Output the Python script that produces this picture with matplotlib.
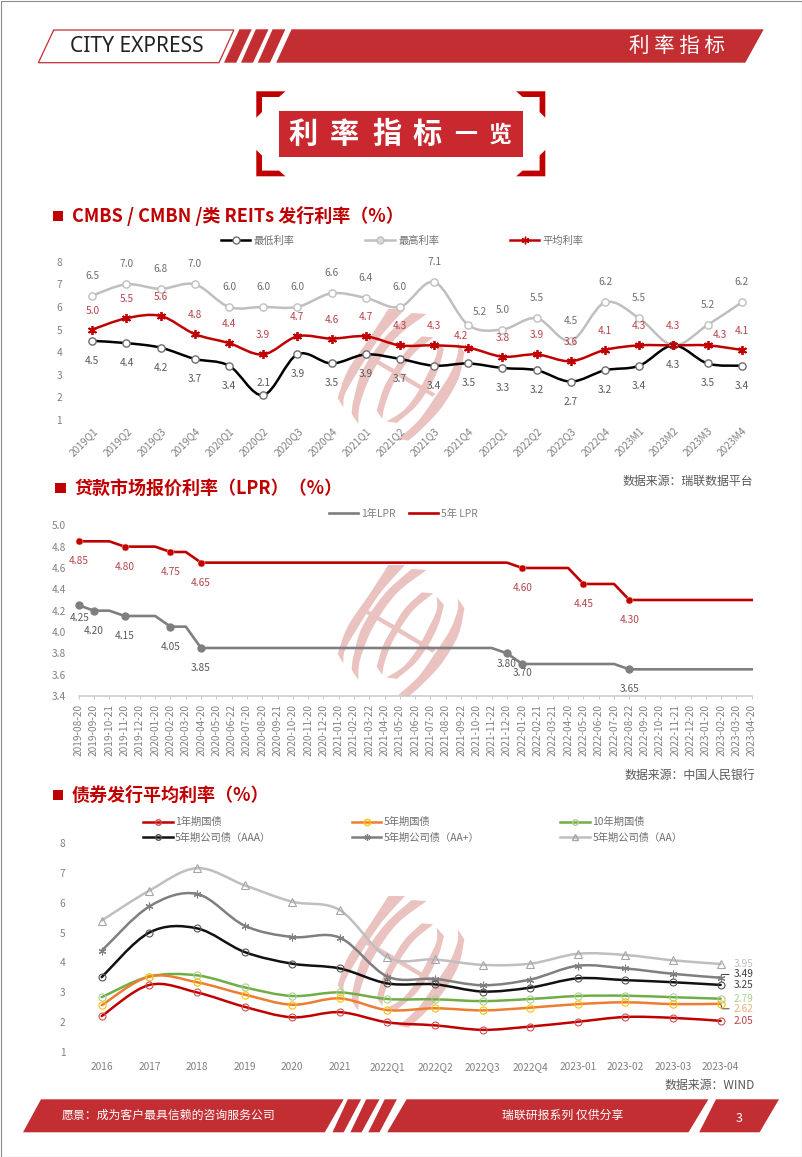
import numpy as np
from matplotlib import pyplot as plt
from matplotlib.lines import Line2D
from matplotlib.patches import PathPatch, Polygon, Rectangle
from matplotlib.path import Path

plt.rcParams['font.family'] = ['Noto Sans CJK SC', 'DejaVu Sans']

W, H = 802, 1157
PX = 0.72  # points per pixel at dpi 100

RED = '#C32E33'
DARK_RED = '#C00000'
TICK_GREY = '#808080'
LOGO = '#EAC3C1'

# chart 1: CMBS / CMBN / REITs
periods = ['2019Q1', '2019Q2', '2019Q3', '2019Q4', '2020Q1', '2020Q2', '2020Q3', '2020Q4',
           '2021Q1', '2021Q2', '2021Q3', '2021Q4', '2022Q1', '2022Q2', '2022Q3', '2022Q4',
           '2023M1', '2023M2', '2023M3', '2023M4']
rate_low = [4.5, 4.4, 4.2, 3.7, 3.4, 2.1, 3.9, 3.5, 3.9, 3.7, 3.4, 3.5, 3.3, 3.2, 2.7, 3.2, 3.4, 4.3, 3.5, 3.4]
rate_high = [6.5, 7.0, 6.8, 7.0, 6.0, 6.0, 6.0, 6.6, 6.4, 6.0, 7.1, 5.2, 5.0, 5.5, 4.5, 6.2, 5.5, 4.3, 5.2, 6.2]
rate_avg = [5.0, 5.5, 5.6, 4.8, 4.4, 3.9, 4.7, 4.6, 4.7, 4.3, 4.3, 4.2, 3.8, 3.9, 3.6, 4.1, 4.3, 4.3, 4.3, 4.1]

# chart 2: LPR
lpr_dates = ['2019-08-20', '2019-09-20', '2019-10-21', '2019-11-20', '2019-12-20',
             '2020-01-20', '2020-02-20', '2020-03-20', '2020-04-20', '2020-05-20', '2020-06-22',
             '2020-07-20', '2020-08-20', '2020-09-21', '2020-10-20', '2020-11-20', '2020-12-20',
             '2021-01-20', '2021-02-20', '2021-03-22', '2021-04-20', '2021-05-20', '2021-06-20',
             '2021-07-20', '2021-08-20', '2021-09-22', '2021-10-20', '2021-11-22', '2021-12-20',
             '2022-01-20', '2022-02-21', '2022-03-21', '2022-04-20', '2022-05-20', '2022-06-20',
             '2022-07-20', '2022-08-22', '2022-09-20', '2022-10-20', '2022-11-21', '2022-12-20',
             '2023-01-20', '2023-02-20', '2023-03-20', '2023-04-20']
lpr_1y = [4.25, 4.20, 4.20, 4.15, 4.15, 4.15, 4.05, 4.05, 3.85, 3.85, 3.85, 3.85, 3.85, 3.85, 3.85,
          3.85, 3.85, 3.85, 3.85, 3.85, 3.85, 3.85, 3.85, 3.85, 3.85, 3.85, 3.85, 3.85, 3.80, 3.70,
          3.70, 3.70, 3.70, 3.70, 3.70, 3.70, 3.65, 3.65, 3.65, 3.65, 3.65, 3.65, 3.65, 3.65, 3.65]
lpr_5y = [4.85, 4.85, 4.85, 4.80, 4.80, 4.80, 4.75, 4.75, 4.65, 4.65, 4.65, 4.65, 4.65, 4.65, 4.65,
          4.65, 4.65, 4.65, 4.65, 4.65, 4.65, 4.65, 4.65, 4.65, 4.65, 4.65, 4.65, 4.65, 4.65, 4.60,
          4.60, 4.60, 4.60, 4.45, 4.45, 4.45, 4.30, 4.30, 4.30, 4.30, 4.30, 4.30, 4.30, 4.30, 4.30]
lpr_1y_changes = [0, 1, 3, 6, 8, 28, 29, 36]
lpr_5y_changes = [0, 3, 6, 8, 29, 33, 36]

# chart 3: bonds
bond_periods = ['2016', '2017', '2018', '2019', '2020', '2021', '2022Q1', '2022Q2', '2022Q3', '2022Q4',
                '2023-01', '2023-02', '2023-03', '2023-04']
gov_1y = [2.21, 3.25, 3.00, 2.52, 2.17, 2.34, 2.00, 1.90, 1.75, 1.86, 2.02, 2.18, 2.15, 2.05]
gov_5y = [2.57, 3.53, 3.34, 2.93, 2.59, 2.80, 2.41, 2.47, 2.40, 2.49, 2.61, 2.67, 2.61, 2.62]
gov_10y = [2.84, 3.53, 3.57, 3.17, 2.88, 3.00, 2.78, 2.77, 2.71, 2.78, 2.88, 2.89, 2.84, 2.79]
corp_aaa = [3.51, 5.00, 5.14, 4.35, 3.96, 3.80, 3.30, 3.27, 3.03, 3.16, 3.47, 3.41, 3.34, 3.25]
corp_aap = [4.39, 5.87, 6.29, 5.23, 4.85, 4.83, 3.53, 3.45, 3.24, 3.43, 3.89, 3.80, 3.62, 3.49]
corp_aa = [5.40, 6.40, 7.15, 6.58, 6.03, 5.75, 4.17, 4.10, 3.92, 3.96, 4.29, 4.25, 4.07, 3.95]


def bezier_through(pts):
    """Bezier control points for a smoothed line through pts, Excel style"""
    pts = np.asarray(pts, dtype=float)
    n = len(pts)
    verts = []
    for i in range(n - 1):
        p0, p1, p2, p3 = pts[max(i - 1, 0)], pts[i], pts[i + 1], pts[min(i + 2, n - 1)]
        verts += [p1 + (p2 - p0) / 6, p2 - (p3 - p1) / 6, p2]
    return verts


def smooth_path(ys):
    pts = np.column_stack([np.arange(len(ys)), ys])
    verts = bezier_through(pts)
    return Path([pts[0]] + verts, [Path.MOVETO] + [Path.CURVE4] * len(verts))


def add_line(ax, ys, color, lw, zorder=3):
    ax.add_patch(PathPatch(smooth_path(ys), fill=False, edgecolor=color, lw=lw,
                           capstyle='round', joinstyle='round', zorder=zorder, clip_on=False))


def px_axes(x0, y0, x1, y1):
    ax = fig.add_axes([x0 / W, 1 - y1 / H, (x1 - x0) / W, (y1 - y0) / H], facecolor='none', zorder=2)
    for side in ['top', 'right', 'left', 'bottom']:
        ax.spines[side].set_visible(False)
    return ax


def point_label(ax, x, y, txt, dx, dy, color):
    # dx, dy in pixels, dy up
    ax.annotate(txt, (x, y), xytext=(dx * PX, dy * PX), textcoords='offset points',
                ha='center', va='center', fontsize=7.3, color=color, zorder=6, annotation_clip=False)


def section_title(x_sq, y_sq, x_txt, txt):
    bg.add_patch(Rectangle((x_sq, y_sq), 10.5, 10, color=DARK_RED, lw=0))
    bg.text(x_txt, y_sq + 5, txt, fontsize=13, color=DARK_RED, va='center', ha='left', fontweight='bold')


def poly(pts, fc=RED, ec='none', lw=0):
    bg.add_patch(Polygon(pts, closed=True, facecolor=fc, edgecolor=ec, lw=lw))


def logo_band(x0, y0, edge_a, edge_b):
    # two smoothed edges, in 1/3 pixel units from the logo corner
    a = [(x0 + x / 3, y0 + y / 3) for x, y in edge_a]
    b = [(x0 + x / 3, y0 + y / 3) for x, y in edge_b]
    va, vb = bezier_through(a), bezier_through(b)
    verts = [a[0]] + va + [b[0]] + vb + [a[0]]
    codes = [Path.MOVETO] + [Path.CURVE4] * len(va) + [Path.LINETO] + [Path.CURVE4] * len(vb) + [Path.CLOSEPOLY]
    bg.add_patch(PathPatch(Path(verts, codes), facecolor=LOGO, edgecolor='none', zorder=1))


def watermark(x0, y0):
    logo_band(x0, y0, [(190, 15), (135, 100), (68, 200), (38, 282)],
              [(55, 310), (60, 270), (100, 200), (165, 100), (240, 15)])
    logo_band(x0, y0, [(260, 27), (180, 100), (112, 200), (85, 290), (80, 330)],
              [(100, 360), (105, 300), (145, 200), (215, 100), (305, 30)])
    logo_band(x0, y0, [(290, 97), (240, 145), (205, 200), (175, 255), (155, 320)],
              [(172, 345), (178, 310), (200, 250), (232, 195), (270, 145), (325, 100)])
    logo_band(x0, y0, [(357, 135), (340, 195), (310, 255), (270, 310), (215, 357)],
              [(185, 352), (235, 320), (275, 270), (310, 205), (335, 150), (335, 110)])
    logo_band(x0, y0, [(418, 145), (400, 225), (350, 310), (290, 375), (250, 410)],
              [(220, 405), (280, 350), (330, 280), (375, 210), (398, 150), (398, 115)])
    bar = [(122, 147), (225, 205), (332, 270), (322, 278), (215, 215), (118, 158)]
    bg.add_patch(Polygon([(x0 + x / 3, y0 + y / 3) for x, y in bar], closed=True,
                         facecolor=LOGO, edgecolor='none', zorder=1))


fig = plt.figure(figsize=(W / 100, H / 100), dpi=100, facecolor='white')

# page furniture
bg = fig.add_axes([0, 0, 1, 1], zorder=0)
bg.set_xlim(0, W)
bg.set_ylim(H, 0)
bg.axis('off')
bg.add_patch(Rectangle((0.5, 0.5), W - 1, H - 1, fill=False, edgecolor='#8c8c8c', lw=0.8))

poly([(53.7, 30), (233.8, 30), (219, 62.7), (38.4, 62.7)], fc='white', ec=RED, lw=0.9)
poly([(239.4, 29.3), (251.7, 29.3), (236.3, 62.7), (224, 62.7)])
poly([(255.8, 29.3), (268.5, 29.3), (253, 62.7), (241, 62.7)])
poly([(272.6, 29.3), (285.4, 29.3), (270, 62.7), (257.8, 62.7)])
poly([(291.6, 29.3), (763.7, 29.3), (745.3, 62.7), (276.2, 62.7)])
bg.text(70, 46.5, 'CITY EXPRESS', fontsize=15.1, color='#222222', va='center', ha='left',
        family=['Liberation Sans Narrow', 'Noto Sans'])
bg.text(677, 46, '利 率 指 标', fontsize=14.8, color='white', va='center', ha='center')

# title box and brackets
bg.add_patch(Rectangle((278.8, 110.7), 244.5, 46.3, color='#C9282E', lw=0))
for mx, my in [(False, False), (True, False), (False, True), (True, True)]:
    pts = [(256.3, 91.3), (285.5, 91.3), (279, 97), (262, 97), (262, 112), (256.3, 117.7)]
    poly([(801.6 - x if mx else x, 267.6 - y if my else y) for x, y in pts], fc=DARK_RED)
for cx, ch in zip([303.2, 344.5, 386.5, 427.5], '利率指标'):
    bg.text(cx, 134, ch, fontsize=21, color='white', va='center', ha='center', fontweight='bold')
bg.text(466, 134, '一', fontsize=16.5, color='white', va='center', ha='center', fontweight='bold')
bg.text(500, 135, '览', fontsize=16.5, color='white', va='center', ha='center', fontweight='bold')

# footer
poly([(41, 1099.3), (343.7, 1099.3), (324.8, 1132.3), (23, 1132.3)])
poly([(347.8, 1099.3), (361.1, 1099.3), (343.7, 1132.3), (332.5, 1132.3)])
poly([(366.2, 1099.3), (379.5, 1099.3), (361.6, 1132.3), (350.4, 1132.3)])
poly([(384.7, 1099.3), (396.9, 1099.3), (379.5, 1132.3), (368.3, 1132.3)])
poly([(406.6, 1099.3), (708.4, 1099.3), (688.5, 1132.3), (387.2, 1132.3)])
poly([(716, 1099.3), (779, 1099.3), (759.6, 1132.3), (699.2, 1132.3)])
bg.text(62, 1115.3, '愿景：成为客户最具信赖的咨询服务公司', fontsize=8.55, color='white', va='center')
bg.text(563, 1115.3, '瑞联研报系列 仅供分享', fontsize=8.55, color='white', va='center', ha='center')
bg.text(739, 1118, '3', fontsize=9, color='white', va='center', ha='center')

section_title(52.7, 210.7, 71.7, 'CMBS / CMBN /类 REITs 发行利率（%）')
section_title(55, 483.3, 74.3, '贷款市场报价利率（LPR）（%）')
section_title(52.7, 790, 71.7, '债券发行平均利率（%）')

bg.text(753, 481, '数据来源：瑞联数据平台', fontsize=8.6, color='#595959', va='center', ha='right')
bg.text(755.5, 775, '数据来源：中国人民银行', fontsize=8.6, color='#595959', va='center', ha='right')
bg.text(754.5, 1085.7, '数据来源：WIND', fontsize=8.6, color='#595959', va='center', ha='right')

watermark(325, 304)
watermark(325, 560)
watermark(325, 891)

# chart 1
ax1 = px_axes(75.2, 261.7, 758.8, 420)
x1 = np.arange(len(periods))
ax1.set_xlim(-0.5, len(periods) - 0.5)
ax1.set_ylim(1, 8)
add_line(ax1, rate_high, '#BFBFBF', 1.8)
add_line(ax1, rate_low, '#000000', 1.8)
add_line(ax1, rate_avg, DARK_RED, 1.8)
ax1.plot(x1, rate_high, ls='none', marker='o', ms=5.2, mfc='white', mec='#BFBFBF', mew=1, zorder=4, clip_on=False)
ax1.plot(x1, rate_low, ls='none', marker='o', ms=5.2, mfc='white', mec='#6e6e6e', mew=1, zorder=4, clip_on=False)
ax1.plot(x1, rate_avg, ls='none', marker=(6, 2, 0), ms=6.5, mec=DARK_RED, mew=1.3, zorder=5, clip_on=False)
ax1.set_xticks(x1)
ax1.set_xticklabels(periods, rotation=45, ha='right', rotation_mode='anchor')
ax1.set_yticks(range(1, 9))
ax1.tick_params(axis='both', length=0, labelsize=7.3, labelcolor=TICK_GREY)
ax1.tick_params(axis='x', pad=4)
ax1.tick_params(axis='y', pad=9.5)

low_shift = {5: (0, 12)}
high_shift = {11: (12, 13)}
avg_shift = {11: (-7, 12), 18: (12, 10)}
for i in x1:
    dx, dy = low_shift.get(i, (0, -20))
    point_label(ax1, i, rate_low[i], '%.1f' % rate_low[i], dx, dy, '#595959')
    if i != 17:  # sits behind the average label
        dx, dy = high_shift.get(i, (0, 20))
        point_label(ax1, i, rate_high[i], '%.1f' % rate_high[i], dx, dy, '#6e6e6e')
    dx, dy = avg_shift.get(i, (0, 19))
    point_label(ax1, i, rate_avg[i], '%.1f' % rate_avg[i], dx, dy, '#B5444A')

ax1.legend(handles=[Line2D([], [], color='black', lw=1.8, marker='o', ms=5, mfc='white', mec='#6e6e6e', label='最低利率'),
                    Line2D([], [], color='#BFBFBF', lw=1.8, marker='o', ms=5, mfc='#d9d9d9', mec='#BFBFBF', label='最高利率'),
                    Line2D([], [], color=DARK_RED, lw=1.8, marker=(6, 2, 0), ms=5.5, mec=DARK_RED, label='平均利率')],
           ncol=3, frameon=False, fontsize=7.4, labelcolor='#6e6e6e', handlelength=2.85, handletextpad=0.32,
           columnspacing=6.9, borderpad=0, borderaxespad=0, loc='center left',
           bbox_to_anchor=(221 / W, 1 - 241 / H), bbox_transform=fig.transFigure)

# chart 2
ax2 = px_axes(78.7, 525.3, 751.7, 696)
x2 = np.arange(len(lpr_dates))
ax2.set_xlim(0, len(lpr_dates) - 1)
ax2.set_ylim(3.4, 5.0)
ax2.plot(x2, lpr_1y, color='#7F7F7F', lw=1.9, zorder=3, clip_on=False)
ax2.plot(x2, lpr_5y, color=DARK_RED, lw=1.9, zorder=3, clip_on=False)
ax2.plot(x2[lpr_1y_changes], np.array(lpr_1y)[lpr_1y_changes], ls='none', marker='o', ms=5, color='#7F7F7F', zorder=4, clip_on=False)
ax2.plot(x2[lpr_5y_changes], np.array(lpr_5y)[lpr_5y_changes], ls='none', marker='o', ms=5, color=DARK_RED, mec='#F0B0A0', mew=0.4, zorder=4, clip_on=False)
ax2.spines['bottom'].set_visible(True)
ax2.spines['bottom'].set_color('#C8C8C8')
ax2.spines['bottom'].set_linewidth(1.1)
ax2.set_xticks(x2)
ax2.set_xticklabels(lpr_dates, rotation=90)
ax2.set_yticks(np.arange(3.4, 5.01, 0.2))
ax2.set_yticklabels(['%.1f' % v for v in np.arange(3.4, 5.01, 0.2)])
ax2.tick_params(axis='x', length=2, width=0.7, color='#C8C8C8', labelsize=7.3, labelcolor=TICK_GREY, pad=4)
ax2.tick_params(axis='y', length=0, labelsize=7.3, labelcolor=TICK_GREY, pad=9)

shift_1y = {0: -13, 28: -11, 29: -9}
for i in lpr_1y_changes:
    point_label(ax2, i, lpr_1y[i], '%.2f' % lpr_1y[i], 1 if i == 0 else 0, shift_1y.get(i, -20), '#595959')
for i in lpr_5y_changes:
    point_label(ax2, i, lpr_5y[i], '%.2f' % lpr_5y[i], 0, -20, '#B5444A')

ax2.legend(handles=[Line2D([], [], color='#7F7F7F', lw=1.9, label='1年LPR'),
                    Line2D([], [], color=DARK_RED, lw=1.9, label='5年 LPR')],
           ncol=2, frameon=False, fontsize=7.4, labelcolor='#7f7f7f', handlelength=2.85, handletextpad=0.3,
           columnspacing=1.25, borderpad=0, borderaxespad=0, loc='center left',
           bbox_to_anchor=(329 / W, 1 - 514 / H), bbox_transform=fig.transFigure)

# chart 3
ax3 = px_axes(77.9, 842.7, 744.5, 1052.3)
x3 = np.arange(len(bond_periods))
ax3.set_xlim(-0.5, len(bond_periods) - 0.5)
ax3.set_ylim(1, 8)
styles = [(corp_aa, '#BFBFBF', '^', '#A6A6A6', 5.2),
          (corp_aap, '#7F7F7F', (6, 2, 0), '#7F7F7F', 5.5),
          (corp_aaa, '#111111', 'o', '#555555', 5),
          (gov_10y, '#70AD47', 'o', '#A9D18E', 5.2),
          (gov_5y, '#ED7D31', 'o', '#FFC000', 5.2),
          (gov_1y, DARK_RED, 'o', '#D05050', 5)]
for ys, color, mk, mec, ms in styles:
    add_line(ax3, ys, color, 1.8)
    ax3.plot(x3, ys, ls='none', marker=mk, ms=ms, mfc='none', mec=mec, mew=0.8, zorder=4, clip_on=False)
ax3.set_xticks(x3)
ax3.set_xticklabels(bond_periods)
ax3.set_yticks(range(1, 9))
ax3.tick_params(axis='both', length=0, labelsize=7.3, labelcolor=TICK_GREY)
ax3.tick_params(axis='x', pad=7)
ax3.tick_params(axis='y', pad=9)

end_labels = [(corp_aa, '#BFBFBF', 0), (corp_aaa, '#404040', 0), (gov_10y, '#A9D18E', -0.5), (gov_1y, '#B5444A', 0)]
for ys, color, dy in end_labels:
    ax3.annotate('%.2f' % ys[-1], (x3[-1], ys[-1]), xytext=(12.6 * PX, dy * PX), textcoords='offset points',
                 ha='left', va='center', fontsize=7.3, color=color, annotation_clip=False)
for ys, color, dy, ang in [(corp_aap, '#404040', 3.3, 75), (gov_5y, '#E3B27E', -5, -75)]:
    ax3.annotate('%.2f' % ys[-1], (x3[-1], ys[-1]), xytext=(12.6 * PX, dy * PX), textcoords='offset points',
                 ha='left', va='center', fontsize=7.3, color=color, annotation_clip=False,
                 arrowprops=dict(arrowstyle='-', color='#404040', lw=0.7, shrinkA=1, shrinkB=1, relpos=(0, 0.5),
                                 connectionstyle='angle,angleA=0,angleB=%d,rad=0' % ang))

ax3.legend(handles=[Line2D([], [], color=DARK_RED, lw=1.8, marker='o', ms=4, mfc='none', mec='#D05050', label='1年期国债'),
                    Line2D([], [], color='#111111', lw=1.8, marker='o', ms=4, mfc='none', mec='#555555', label='5年期公司债（AAA）'),
                    Line2D([], [], color='#ED7D31', lw=1.8, marker='o', ms=4.5, mfc='none', mec='#FFC000', label='5年期国债'),
                    Line2D([], [], color='#7F7F7F', lw=1.8, marker=(6, 2, 0), ms=4.5, mec='#7F7F7F', label='5年期公司债（AA+）'),
                    Line2D([], [], color='#70AD47', lw=1.8, marker='o', ms=4, mfc='none', mec='#A9D18E', label='10年期国债'),
                    Line2D([], [], color='#BFBFBF', lw=1.8, marker='^', ms=4.5, mfc='none', mec='#A6A6A6', label='5年期公司债（AA）')],
           ncol=3, frameon=False, fontsize=7.4, labelcolor='#6e6e6e', handlelength=2.85, handletextpad=0.25,
           columnspacing=7.85, labelspacing=0.55, borderpad=0, borderaxespad=0, loc='center left',
           bbox_to_anchor=(143.3 / W, 1 - 830 / H), bbox_transform=fig.transFigure)

fig.savefig('out.png', dpi=100)
